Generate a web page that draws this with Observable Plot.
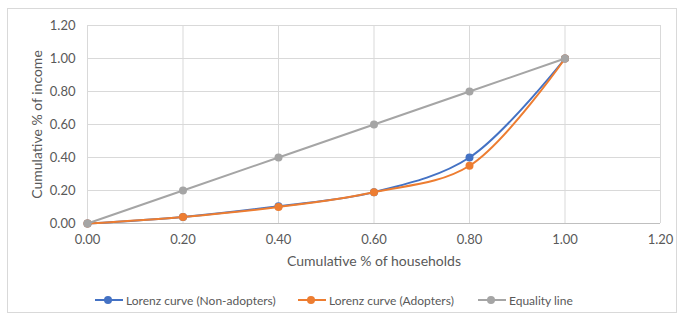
<!DOCTYPE html>
<html>
<head>
<meta charset="utf-8">
<script src="https://cdn.jsdelivr.net/npm/d3@7"></script>
<script src="https://cdn.jsdelivr.net/npm/@observablehq/plot@0.6"></script>
<style>
  body { margin: 0; background: #fff; }
  #wrap { position: relative; width: 683px; height: 322px; font-family: Lato, "Open Sans", sans-serif; }
  #frame { position: absolute; left: 7px; top: 8px; width: 670px; height: 305px; border: 1px solid #d9d9d9; box-sizing: border-box; pointer-events: none; }
  #chart { position: absolute; left: 0; top: 0; }
  .leg { position: absolute; top: 292px; height: 16px; display: flex; align-items: center; font-size: 12px; color: #595959; white-space: nowrap; }
  .sw { position: relative; width: 28px; height: 16px; margin-right: 3px; }
  .sw .ln { position: absolute; left: 0; right: 0; top: 7px; height: 2px; }
  .sw .dt { position: absolute; left: 9px; top: 4px; width: 8px; height: 8px; border-radius: 50%; }
</style>
</head>
<body>
<div id="wrap">
  <div id="frame"></div>
  <div id="chart"></div>
</div>
<script>
const households = [0, 0.2, 0.4, 0.6, 0.8, 1.0];
const nonAdopters = [0, 0.04, 0.105, 0.19, 0.40, 1.0];
const adopters = [0, 0.04, 0.10, 0.19, 0.35, 1.0];
const equality = [0, 0.2, 0.4, 0.6, 0.8, 1.0];
const seriesNames = ["Lorenz curve (Non-adopters)", "Lorenz curve (Adopters)", "Equality line"];
const seriesColors = ["#4472C4", "#ED7D31", "#A5A5A5"];
const ticks = [0, 0.2, 0.4, 0.6, 0.8, 1.0, 1.2];

const seriesValues = [nonAdopters, adopters, equality];
const data = seriesValues.flatMap((vals, s) => vals.map((v, i) => ({series: seriesNames[s], x: households[i], y: v})));

const marks = [
  Plot.gridX(ticks, {stroke: "#d9d9d9", strokeOpacity: 1}),
  Plot.gridY(ticks, {stroke: "#d9d9d9", strokeOpacity: 1}),
  Plot.ruleY([0], {stroke: "#bfbfbf"}),
  Plot.axisX(ticks, {tickSize: 0, tickPadding: 11, tickFormat: d3.format(".2f"), label: null, fill: "#595959", fontSize: 13}),
  Plot.axisY(ticks, {tickSize: 0, tickPadding: 12, tickFormat: d3.format(".2f"), label: null, fill: "#595959", fontSize: 13}),
];
seriesNames.forEach((name, s) => {
  const d = data.filter(r => r.series === name);
  const curve = s === 2 ? "linear" : "catmull-rom";
  marks.push(Plot.line(d, {x: "x", y: "y", stroke: seriesColors[s], strokeWidth: 2, curve}));
  marks.push(Plot.dot(d, {x: "x", y: "y", fill: seriesColors[s], r: 4}));
});
marks.push(Plot.text(["Cumulative % of households"], {frameAnchor: "bottom", lineAnchor: "middle", textAnchor: "middle", dy: 38, text: d => d, fill: "#595959", fontSize: 14}));
marks.push(Plot.text(["Cumulative % of income"], {frameAnchor: "left", lineAnchor: "middle", textAnchor: "middle", dx: -50, rotate: -90, text: d => d, fill: "#595959", fontSize: 14}));

const chart = Plot.plot({
  width: 683,
  height: 280,
  marginLeft: 87,
  marginRight: 23,
  marginTop: 25,
  marginBottom: 57,
  style: {fontFamily: "Lato, 'Open Sans', sans-serif", background: "transparent", overflow: "visible"},
  x: {domain: [0, 1.2]},
  y: {domain: [0, 1.2]},
  marks
});
document.getElementById("chart").appendChild(chart);

const legendX = [95, 298, 478];
const wrap = document.getElementById("wrap");
seriesNames.forEach((name, s) => {
  const item = document.createElement("div");
  item.className = "leg";
  item.style.left = legendX[s] + "px";
  item.innerHTML = `<div class="sw"><div class="ln" style="background:${seriesColors[s]}"></div><div class="dt" style="background:${seriesColors[s]}"></div></div><span>${name}</span>`;
  wrap.appendChild(item);
});
</script>
</body>
</html>
